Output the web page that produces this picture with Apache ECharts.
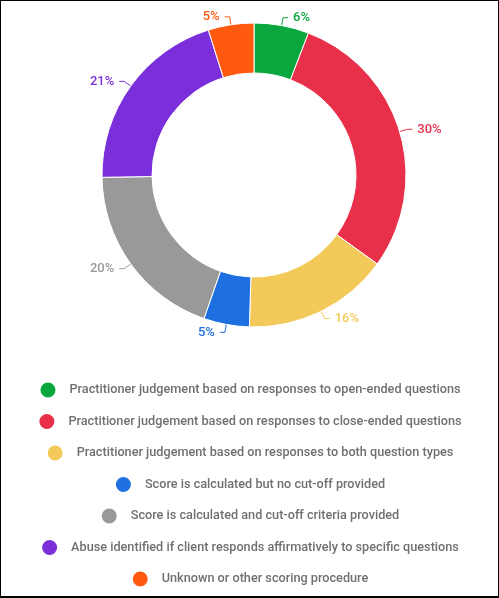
<!DOCTYPE html>
<html>
<head>
<meta charset="utf-8">
<script src="https://cdn.jsdelivr.net/npm/echarts@6/dist/echarts.min.js"></script>
<style>
html,body{margin:0;padding:0;background:#fff;}
#chart{width:499px;height:598px;position:absolute;left:0;top:0;}
#frame{position:absolute;left:0;top:0;width:497px;height:595px;border-top:1px solid #000;border-left:1px solid #000;border-right:1px solid #000;border-bottom:2px solid #000;pointer-events:none;}
</style>
</head>
<body>
<div id="chart"></div>
<div id="frame"></div>
<script>
const categories = [
  "Practitioner judgement based on responses to open-ended questions",
  "Practitioner judgement based on responses to close-ended questions",
  "Practitioner judgement based on responses to both question types",
  "Score is calculated but no cut-off provided",
  "Score is calculated and cut-off criteria provided",
  "Abuse identified if client responds affirmatively to specific questions",
  "Unknown or other scoring procedure"
];
const values = [6, 30, 16, 5, 20, 21, 5];
const colors = ["#0aa63e", "#e8304b", "#f3c95a", "#1e6fe0", "#999999", "#7a2fdb", "#ff5a0f"];

const chart = echarts.init(document.getElementById('chart'), null, {renderer: 'canvas'});
const legendTops = [375.5, 407, 438.5, 470, 501.5, 533, 564.5];
const legends = categories.map((c, i) => ({
  data: [c],
  left: 'center',
  top: legendTops[i],
  icon: 'circle',
  itemWidth: 17,
  itemHeight: 17,
  selectedMode: false,
  textStyle: {
    fontFamily: 'Roboto',
    fontWeight: 500,
    fontSize: 12.7,
    color: '#707070',
    padding: [0, 0, 0, 8]
  }
}));
chart.setOption({
  animation: false,
  color: colors,
  legend: legends,
  series: [{
    type: 'pie',
    center: [254, 175],
    radius: [102, 152],
    startAngle: 90,
    clockwise: true,
    itemStyle: {borderColor: '#fff', borderWidth: 1},
    label: {
      show: true,
      position: 'outside',
      formatter: '{c}%',
      fontFamily: 'Roboto',
      fontWeight: 500,
      fontSize: 13,
      color: 'inherit'
    },
    labelLine: {show: true, length: 8, length2: 5, lineStyle: {width: 1}},
    data: categories.map((c, i) => ({name: c, value: values[i], label: {color: colors[i]}}))
  }]
});
</script>
</body>
</html>
